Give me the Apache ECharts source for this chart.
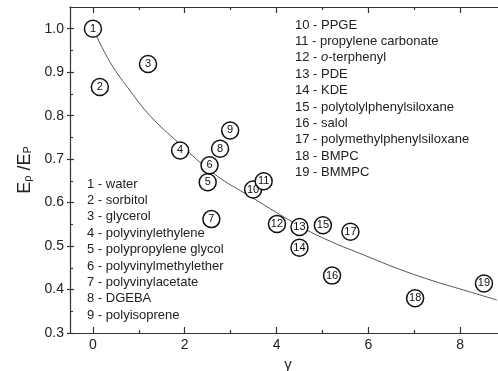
<!DOCTYPE html>
<html>
<head>
<meta charset="utf-8">
<script src="https://cdn.jsdelivr.net/npm/echarts@6/dist/echarts.min.js"></script>
<style>
  html, body { margin: 0; padding: 0; background: #fff; }
  #chart { width: 498px; height: 371px; }
</style>
</head>
<body>
<div id="chart"></div>
<script>
// Substances, numbered 1..19 in this order
const substanceNames = [
  'water', 'sorbitol', 'glycerol', 'polyvinylethylene', 'polypropylene glycol',
  'polyvinylmethylether', 'polyvinylacetate', 'DGEBA', 'polyisoprene',
  'PPGE', 'propylene carbonate', '{i|o}-terphenyl', 'PDE', 'KDE',
  'polytolylphenylsiloxane', 'salol', 'polymethylphenylsiloxane', 'BMPC', 'BMMPC'
];
// gamma and E_rho/E_P for each substance
const gammaValues = [0, 0.15, 1.2, 1.9, 2.5, 2.54, 2.58, 2.77, 2.99, 3.49,
  3.72, 4.01, 4.5, 4.5, 5.01, 5.21, 5.61, 7.02, 8.52];
const ratioValues = [1.0, 0.866, 0.919, 0.72, 0.647, 0.686, 0.562, 0.724, 0.766, 0.630,
  0.649, 0.551, 0.544, 0.496, 0.548, 0.432, 0.533, 0.380, 0.414];

// Fitted curve
const fitGamma = [0, 0.38, 0.82, 1.25, 1.87, 2.67, 3.43, 4.52, 5.17, 5.89,
  6.62, 7.35, 8.07, 8.80];
const fitRatio = [1.0, 0.922, 0.856, 0.799, 0.737, 0.664, 0.614, 0.545, 0.511, 0.480,
  0.449, 0.422, 0.399, 0.376];

// Axis ticks
const xMajorTicks = [0, 2, 4, 6, 8];
const xMinorTicks = [1, 3, 5, 7, 9];
const yMajorTicks = [0.3, 0.4, 0.5, 0.6, 0.7, 0.8, 0.9, 1.0];
const yMinorTicks = [0.35, 0.45, 0.55, 0.65, 0.75, 0.85, 0.95, 1.05];

const FONT = '"Liberation Sans", Arial, sans-serif';
const INK = '#222';
const X_RANGE = { min: -0.5, max: 9 };
const Y_RANGE = { min: 0.3, max: 1.05 };

function xAxisDef(position, showLine, ticks, len, showLabels) {
  return Object.assign({
    type: 'value', gridIndex: 0, position: position,
    axisLine: { show: showLine, onZero: false, lineStyle: { color: '#333', width: 1.2 } },
    axisTick: { show: true, inside: true, length: len, customValues: ticks,
      lineStyle: { color: '#333', width: 1.2 } },
    minorTick: { show: false },
    axisLabel: showLabels
      ? { show: true, customValues: ticks, fontSize: 14, color: INK, fontFamily: FONT, margin: 5 }
      : { show: false },
    splitLine: { show: false }
  }, X_RANGE);
}

function yAxisDef(showLine, ticks, len, inside, showLabels) {
  return Object.assign({
    type: 'value', gridIndex: 0, position: 'left',
    axisLine: { show: showLine, onZero: false, lineStyle: { color: '#333', width: 1.2 } },
    axisTick: { show: true, inside: inside, length: len, customValues: ticks,
      lineStyle: { color: '#333', width: 1.2 } },
    minorTick: { show: false },
    axisLabel: showLabels
      ? { show: true, customValues: ticks, fontSize: 14, color: INK, fontFamily: FONT, margin: 6,
          formatter: v => v.toFixed(1) }
      : { show: false },
    splitLine: { show: false }
  }, Y_RANGE);
}

const xAxes = [
  xAxisDef('bottom', true, xMajorTicks, 6, true),
  xAxisDef('bottom', false, xMinorTicks, 3, false),
  xAxisDef('top', true, xMajorTicks, 6, false),
  xAxisDef('top', false, xMinorTicks, 3, false)
];
xAxes[0].name = 'γ';
xAxes[0].nameLocation = 'middle';
xAxes[0].nameGap = 18;
xAxes[0].nameTextStyle = { fontSize: 15, color: INK, fontFamily: FONT };

const yAxes = [
  yAxisDef(true, yMajorTicks, 3, false, true),
  yAxisDef(false, yMajorTicks, 4, true, false),
  yAxisDef(false, yMinorTicks, 3, true, false)
];
yAxes[0].name = '{e|E}{s|ρ}{e| /E}{s|P}';
yAxes[0].nameLocation = 'middle';
yAxes[0].nameRotate = 90;
yAxes[0].nameGap = 36;
yAxes[0].nameTextStyle = {
  rich: {
    e: { fontSize: 18, fontFamily: FONT, color: INK, lineHeight: 22, verticalAlign: 'bottom' },
    s: { fontSize: 11, fontFamily: FONT, color: INK, lineHeight: 22, verticalAlign: 'bottom' }
  }
};

// Legend-style key text, two columns
const LINE_STEP = 16.4;
const keyTexts = [];
substanceNames.forEach((name, i) => {
  const leftCol = i < 9;
  keyTexts.push({
    type: 'text',
    x: leftCol ? 87 : 295,
    y: leftCol ? 184 + i * LINE_STEP : 25 + (i - 9) * LINE_STEP,
    z: 50,
    style: {
      text: (i + 1) + ' - ' + name,
      fontSize: 13, fontFamily: FONT, fill: INK, verticalAlign: 'middle',
      rich: { i: { fontSize: 13, fontFamily: FONT, fill: INK, fontStyle: 'italic' } }
    }
  });
});

const points = gammaValues.map((g, i) => ({ value: [g, ratioValues[i]], label: String(i + 1) }));
const curve = fitGamma.map((g, i) => [g, fitRatio[i]]);

const chart = echarts.init(document.getElementById('chart'), null, { renderer: 'canvas' });
chart.setOption({
  animation: false,
  backgroundColor: '#fff',
  grid: { left: 70, top: 7, bottom: 38, right: -8, containLabel: false, outerBoundsMode: 'none' },
  xAxis: xAxes,
  yAxis: yAxes,
  graphic: keyTexts,
  series: [
    {
      type: 'line', xAxisIndex: 0, yAxisIndex: 0,
      data: curve, smooth: 0.4, symbol: 'none', z: 2,
      lineStyle: { color: '#555', width: 1 }
    },
    {
      type: 'scatter', xAxisIndex: 0, yAxisIndex: 0,
      data: points, symbol: 'circle', symbolSize: 17, z: 5,
      itemStyle: { color: '#fff', borderColor: '#111', borderWidth: 1.5, opacity: 1 },
      label: {
        show: true, position: 'inside', formatter: p => p.data.label,
        fontSize: 11, color: '#111', fontFamily: FONT
      },
      emphasis: { disabled: true }
    }
  ]
});
</script>
</body>
</html>
